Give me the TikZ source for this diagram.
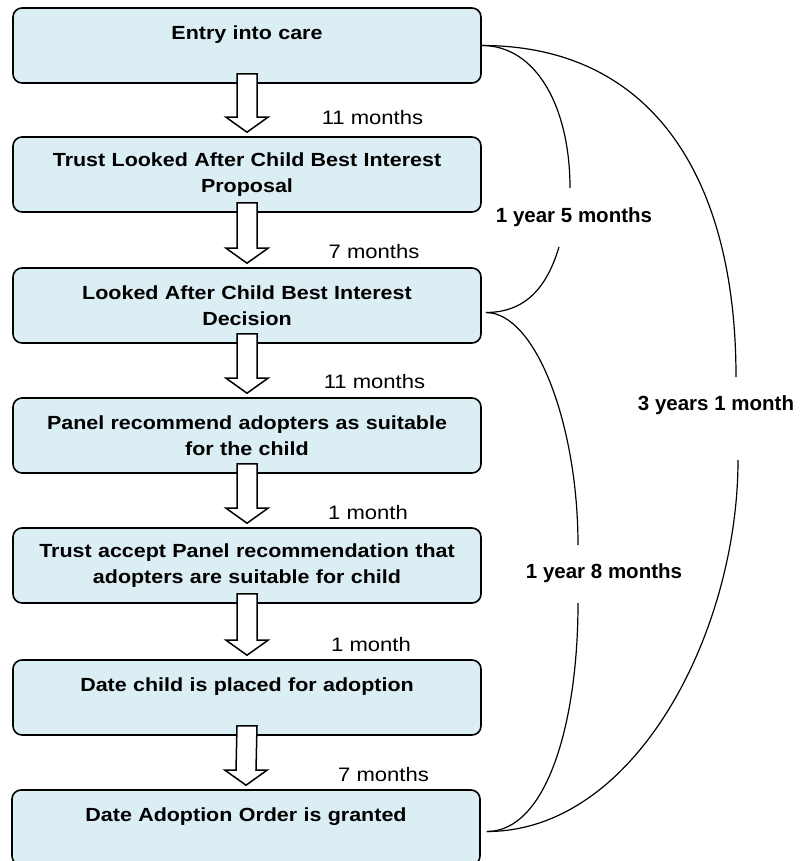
\documentclass[tikz,border=0pt]{standalone}
\usepackage{fontspec}
\setmainfont{Liberation Sans}
\newfontfamily\widesans{Liberation Sans}[FakeStretch=1.13]
\usetikzlibrary{calc}
\definecolor{boxblue}{RGB}{219,238,243}

\tikzset{
  stage/.style={draw, line width=1.6pt, rounded corners=9pt, fill=boxblue,
    minimum width=468pt, minimum height=75pt, text width=450pt, align=center,
    font=\widesans\fontsize{19}{26.5}\selectfont\bfseries},
  gap/.style={anchor=base, font=\widesans\fontsize{19.5}{23}\selectfont},
  span/.style={anchor=base, font=\fontsize{20.5}{24}\selectfont\bfseries},
  hollow/.style={draw, fill=white, line width=1.5pt, line join=miter},
  link/.style={line width=1.2pt}
}

% hollow block arrow from one stage down to the next
\newcommand{\blockarrow}[2]{%
  \draw[hollow] ($(#1.south)+(-10,10)$) -- ($(#2.north)+(-10,19)$) -- ++(-11,0)
    -- ($(#2.north)+(0,4)$) -- ($(#2.north)+(21,19)$) -- ++(-11,0)
    -- ($(#1.south)+(10,10)$) -- cycle;}

\begin{document}
\begin{tikzpicture}[x=1pt, y=1pt]
    \useasboundingbox (0,0) rectangle (802,-861);
    \clip (0,0) rectangle (802,-861);

    % Stages
    \node[stage] (entry)    at (247,-45.5)  {Entry into care\\~};
    \node[stage] (proposal) at (247,-174.5) {Trust Looked After Child Best Interest\\Proposal};
    \node[stage] (decision) at (247,-305.5) {Looked After Child Best Interest\\Decision};
    \node[stage] (match)    at (247,-435.5) {Panel recommend adopters as suitable\\for the child};
    \node[stage] (accept)   at (247,-565.5) {Trust accept Panel recommendation that\\adopters are suitable for child};
    \node[stage] (placed)   at (247,-697.5) {Date child is placed for adoption\\~};
    \node[stage] (order)    at (246,-827.5) {Date Adoption Order is granted\\~};

    % Arrows between stages
    \blockarrow{entry}{proposal}
    \blockarrow{proposal}{decision}
    \blockarrow{decision}{match}
    \blockarrow{match}{accept}
    \blockarrow{accept}{placed}
    \blockarrow{placed}{order}

    % Time between stages
    \node[gap] (g1) at (372.5,-125) {11 months};
    \node[gap] (g2) at (374,-258)   {7 months};
    \node[gap] (g3) at (374.5,-388) {11 months};
    \node[gap] (g4) at (368,-519)   {1 month};
    \node[gap] (g5) at (371,-651)   {1 month};
    \node[gap] (g6) at (383.5,-781) {7 months};

    % Overall spans
    \node[span] (s1) at (574,-222) {1 year 5 months};
    \node[span] (s2) at (716,-410) {3 years 1 month};
    \node[span] (s3) at (604,-578) {1 year 8 months};

    \coordinate (s1top) at (570,-188);
    \coordinate (s1bot) at (559,-247);
    \coordinate (s2top) at (736,-377);
    \coordinate (s2bot) at (738,-460);
    \coordinate (s3top) at (578,-545);
    \coordinate (s3bot) at (578,-603);

    \draw[link] (entry.east) .. controls +(55,0) and +(0,80) .. (s1top);
    \draw[link] (s1bot) .. controls +(-12,-40) and +(40,0) .. ([shift={(4,-7)}]decision.east);
    \draw[link] (entry.east) .. controls +(170,0) and +(0,200) .. (s2top);
    \draw[link] (s2bot) .. controls +(0,-170) and +(150,0) .. ([shift={(6,-4)}]order.east);
    \draw[link] ([shift={(4,-7)}]decision.east) .. controls +(50,0) and +(0,120) .. (s3top);
    \draw[link] (s3bot) .. controls +(0,-120) and +(60,0) .. ([shift={(6,-4)}]order.east);
\end{tikzpicture}
\end{document}
